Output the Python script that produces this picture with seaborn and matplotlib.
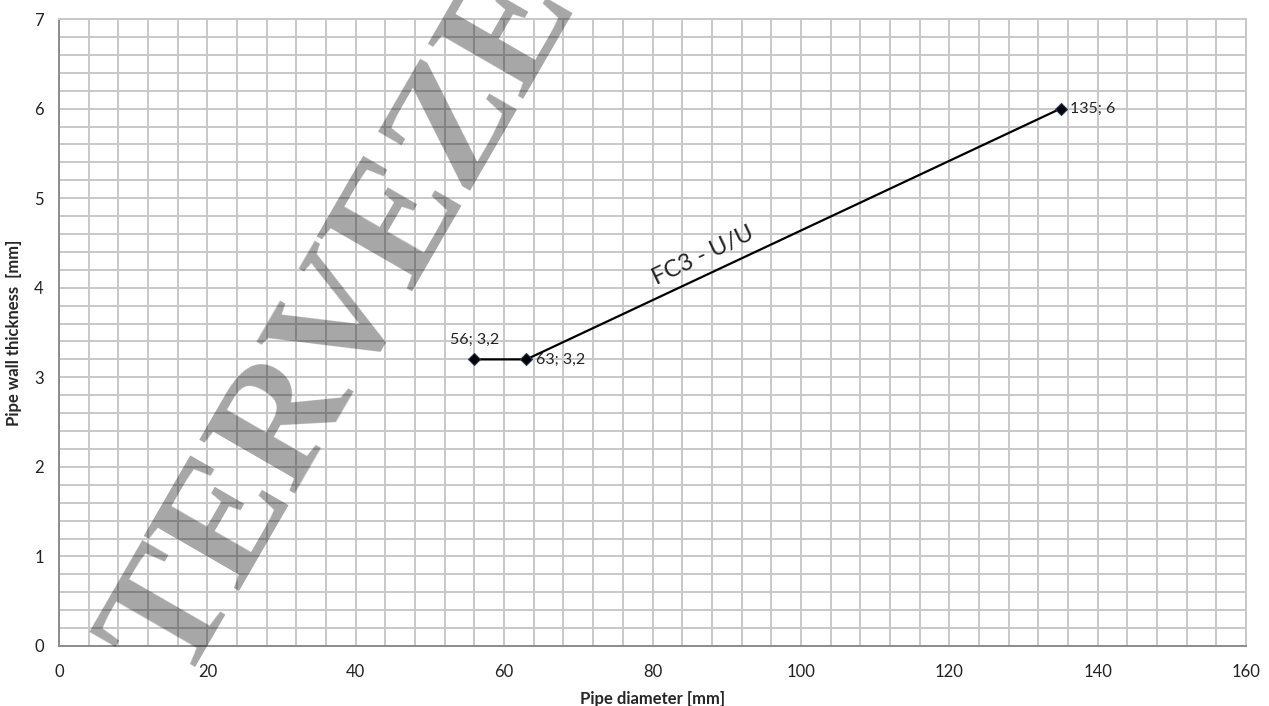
import matplotlib
matplotlib.use('Agg')
import matplotlib.pyplot as plt
import pandas as pd
import seaborn as sns

# Data
pipe_diameter = [56, 63, 135]
wall_thickness = [3.2, 3.2, 6]
series_name = 'FC3 - U/U'
x_ticks = [0, 20, 40, 60, 80, 100, 120, 140, 160]
y_ticks = [0, 1, 2, 3, 4, 5, 6, 7]
watermark = 'TERVEZET'

df = pd.DataFrame({'diameter': pipe_diameter, 'thickness': wall_thickness})

sns.set_theme(style='white')
plt.rcParams['font.family'] = ['Lato', 'DejaVu Sans']

fig = plt.figure(figsize=(12.69, 7.06), dpi=100)
ax = fig.add_axes([0.0465, 0.085, 0.9354, 0.888])

# Grid: major + minor cells like the spreadsheet chart
ax.set_xlim(0, 160)
ax.set_ylim(0, 7)
ax.set_xticks(x_ticks)
ax.set_xticks([v for v in range(0, 161, 4)], minor=True)
ax.set_yticks(y_ticks)
ax.set_yticks([i * 0.2 for i in range(36)], minor=True)
ax.grid(which='both', color='#c8c8c8', linewidth=1.4)
ax.set_axisbelow(True)
ax.tick_params(which='both', length=0, labelsize=12, colors='#222222')
ax.tick_params(axis='x', pad=13)
ax.tick_params(axis='y', pad=11)

for side in ['top', 'right']:
    ax.spines[side].set_color('#c8c8c8')
    ax.spines[side].set_linewidth(1.4)
for side in ['left', 'bottom']:
    ax.spines[side].set_color('#8c8c8c')
    ax.spines[side].set_linewidth(1.4)

# Series
sns.lineplot(data=df, x='diameter', y='thickness', ax=ax, color='black',
             linewidth=1.6, marker='D', markersize=6.5,
             markeredgecolor='#1f3a60', markeredgewidth=0.8, zorder=5)

# Data labels
for i, (x, y) in enumerate(zip(pipe_diameter, wall_thickness)):
    label = f"{x}; {y:g}".replace('.', ',')
    if i == 0:
        ax.annotate(label, (x, y), xytext=(0, 9), textcoords='offset points',
                    ha='center', va='bottom', fontsize=11.5, color='#222222')
    else:
        ax.annotate(label, (x, y), xytext=(7, 0), textcoords='offset points',
                    ha='left', va='center', fontsize=11.5, color='#222222')

# Series name along the line
ax.text(87.5, 4.25, series_name, rotation=25.5, rotation_mode='anchor',
        ha='center', va='bottom', fontsize=17, color='#222222')

ax.set_xlabel('Pipe diameter [mm]', fontsize=12, fontweight='bold', labelpad=8)
ax.set_ylabel('Pipe wall thickness  [mm]', fontsize=12, fontweight='bold', labelpad=9)

# Watermark
fig.text(0.143, 0.028, watermark, rotation=60, rotation_mode='anchor',
         ha='left', va='baseline', fontsize=120, family='Liberation Serif',
         fontweight='bold', color='black', alpha=0.35, zorder=10)

fig.savefig('out.png', dpi=100)
